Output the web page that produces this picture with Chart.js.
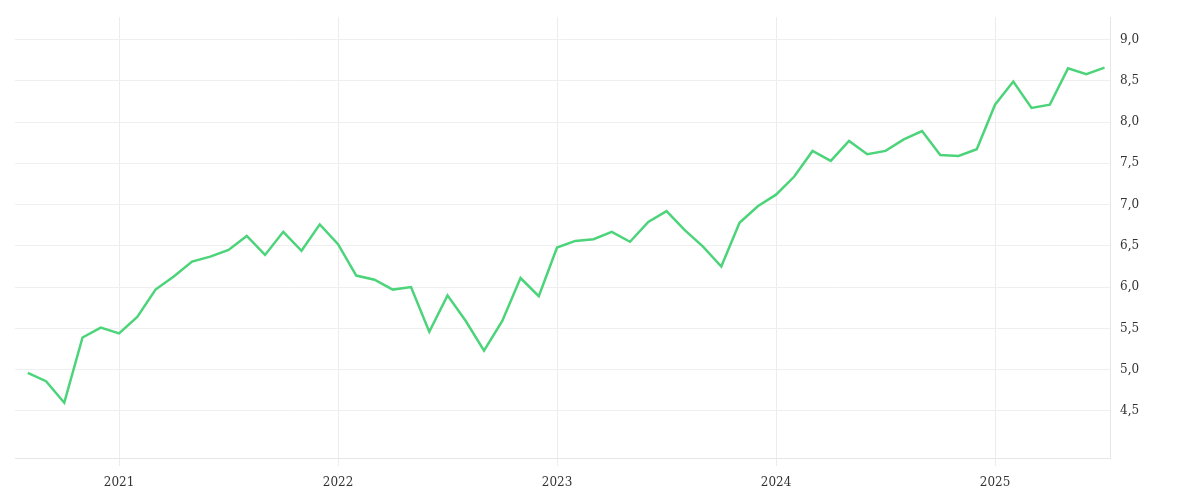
<!DOCTYPE html>
<html><head><meta charset="utf-8">
<script src="https://cdn.jsdelivr.net/npm/chart.js@4"></script>
<style>html,body{margin:0;padding:0;background:#fff}#w{width:1200px;height:500px}</style>
</head><body><div id="w"><canvas id="c"></canvas></div>
<script>
const months = [];
for (let y = 2020, m = 8; months.length < 60; ) { months.push(y + '-' + String(m).padStart(2,'0')); m++; if (m > 12) { m = 1; y++; } }
const values = [4.96,4.86,4.60,5.39,5.51,5.44,5.64,5.97,6.13,6.31,6.37,6.45,6.62,6.39,6.67,6.44,6.76,6.52,6.14,6.09,5.97,6.00,5.46,5.90,5.59,5.23,5.59,6.11,5.89,6.48,6.56,6.58,6.67,6.55,6.79,6.92,6.69,6.49,6.25,6.78,6.98,7.12,7.34,7.65,7.53,7.77,7.61,7.65,7.79,7.89,7.60,7.59,7.67,8.21,8.49,8.17,8.21,8.65,8.58,8.66];
const yTicks = [4.5,5.0,5.5,6.0,6.5,7.0,7.5,8.0,8.5,9.0];
const yearLabels = ['2021','2022','2023','2024','2025'];
const yearIdx = yearLabels.map(y => months.indexOf(y + '-01'));
new Chart(document.getElementById('c'), {
  type: 'line',
  data: { datasets: [{ data: values.map((v,i)=>({x:i,y:v})), borderColor:'#4cd47a', borderWidth:2.5, pointRadius:0, tension:0 }] },
  options: {
    responsive:true, maintainAspectRatio:false, animation:false,
    layout:{padding:{left:15,top:7,right:0,bottom:0}},
    plugins:{legend:{display:false},tooltip:{enabled:false}},
    scales:{
      x:{type:'linear',min:-0.7,max:59.3,
        afterBuildTicks:s=>{s.ticks=yearIdx.map(v=>({value:v}));},
        afterFit:s=>{s.height=42;},
        grid:{color:'#ececec',tickLength:8,drawOnChartArea:true},
        border:{display:true,color:'#e6e6e6'},
        ticks:{color:'#333',font:{family:'DejaVu Serif',size:12},padding:10,maxRotation:0,
          callback:(v)=>{const k=yearIdx.indexOf(v);return k>=0?yearLabels[k]:'';}}},
      y:{position:'right',min:3.93,max:9.27,
        afterBuildTicks:s=>{s.ticks=yTicks.map(v=>({value:v}));},
        afterFit:s=>{s.width=90;},
        grid:{color:'#efefef',drawTicks:false},
        border:{display:true,color:'#e6e6e6'},
        ticks:{color:'#333',font:{family:'DejaVu Serif',size:12},padding:10,
          callback:v=>v.toFixed(1).replace('.',',')}}
    }
  }
});
</script></body></html>
